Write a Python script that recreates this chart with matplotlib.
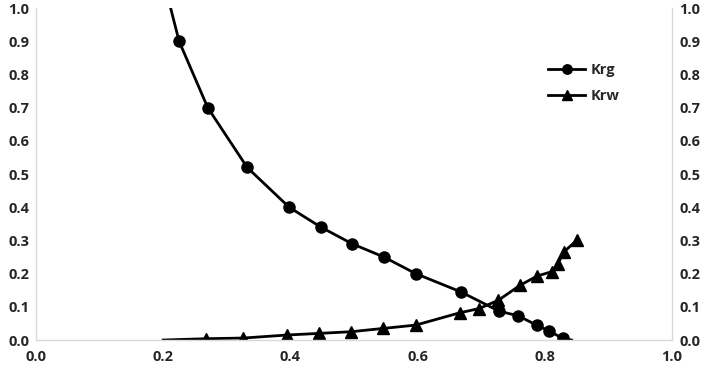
import matplotlib.pyplot as plt

# Krg series (last point has no marker, line runs down to the axis)
krg_x = [0.205, 0.225, 0.270, 0.332, 0.398, 0.448, 0.497, 0.547, 0.597,
         0.668, 0.728, 0.758, 0.787, 0.807, 0.828, 0.842]
krg_y = [1.05, 0.90, 0.70, 0.52, 0.40, 0.34, 0.29, 0.25, 0.20,
         0.145, 0.087, 0.073, 0.045, 0.027, 0.005, 0.0]

# Krw series (first point has no marker)
krw_x = [0.200, 0.268, 0.326, 0.394, 0.445, 0.495, 0.546, 0.597, 0.666,
         0.697, 0.727, 0.761, 0.788, 0.811, 0.820, 0.830, 0.850]
krw_y = [0.0, 0.004, 0.006, 0.015, 0.020, 0.025, 0.035, 0.045, 0.082,
         0.095, 0.120, 0.165, 0.193, 0.206, 0.228, 0.266, 0.300]

x_ticks = [0.0, 0.2, 0.4, 0.6, 0.8, 1.0]
y_ticks = [0.0, 0.1, 0.2, 0.3, 0.4, 0.5, 0.6, 0.7, 0.8, 0.9, 1.0]


def main() -> None:
    plt.rcParams["font.family"] = ["Open Sans", "DejaVu Sans"]
    fig = plt.figure(figsize=(7.06, 3.70), dpi=100)
    ax = fig.add_axes([0.051, 0.081, 0.901, 0.897])

    ax.plot(krg_x, krg_y, color="black", lw=2.0, marker="o", ms=8,
            markevery=list(range(1, len(krg_x) - 1)), label="Krg")
    ax.plot(krw_x, krw_y, color="black", lw=2.0, marker="^", ms=8,
            markevery=list(range(1, len(krw_x))), label="Krw")

    ax.set_xlim(0, 1)
    ax.set_ylim(0, 1)
    ax.set_xticks(x_ticks)
    ax.set_yticks(y_ticks)
    ax.set_xticklabels([f"{v:.1f}" for v in x_ticks])
    ax.set_yticklabels([f"{v:.1f}" for v in y_ticks])
    ax.tick_params(length=0, labelsize=10.5, labelcolor="#262626",
                   labelleft=True, labelright=True, pad=5)
    ax.tick_params(axis="x", pad=7)
    for lab in ax.get_xticklabels() + ax.get_yticklabels():
        lab.set_fontweight("bold")

    for side in ["left", "right", "bottom"]:
        ax.spines[side].set_color("#d9d9d9")
        ax.spines[side].set_linewidth(1.0)
    ax.spines["top"].set_visible(False)

    leg = ax.legend(loc="upper left", bbox_to_anchor=(0.785, 0.875), frameon=False,
                    handlelength=2.5, labelspacing=0.85, handletextpad=0.4,
                    markerscale=0.85, prop={"weight": "bold", "size": 10.5})
    for t in leg.get_texts():
        t.set_color("#262626")

    fig.savefig("out.png", dpi=100)


if __name__ == "__main__":
    main()
